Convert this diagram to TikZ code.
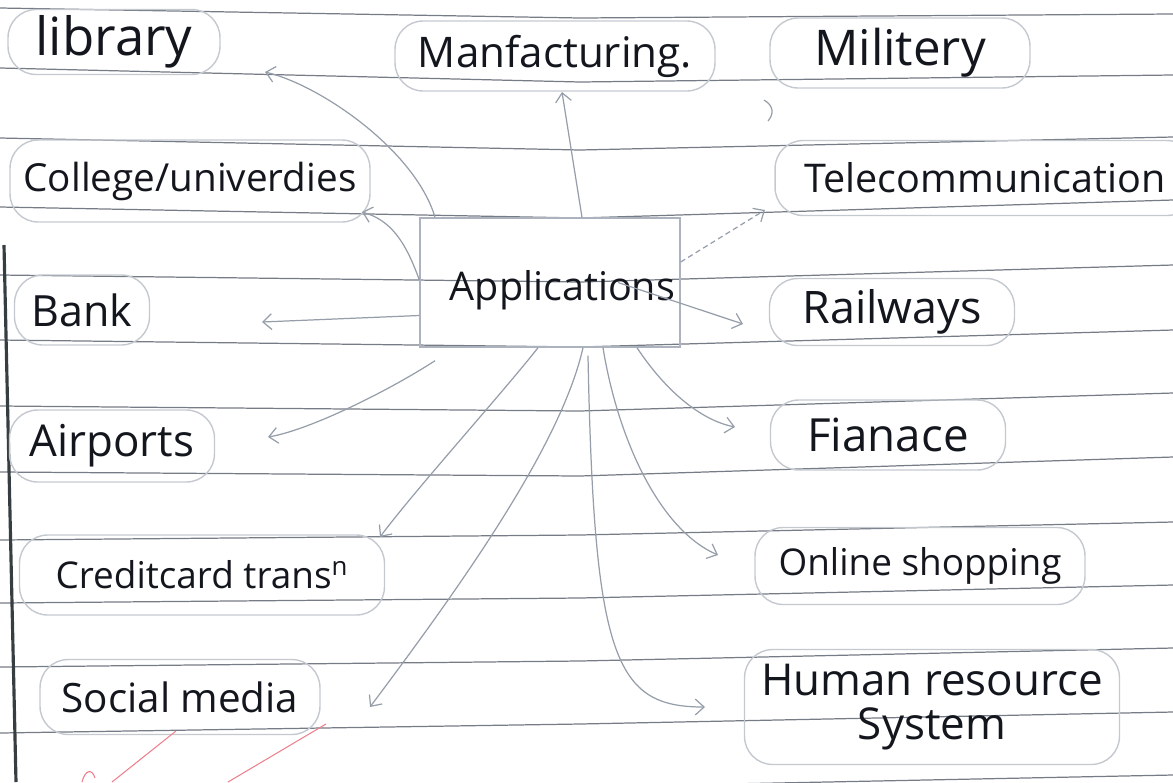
\documentclass[tikz,border=0pt]{standalone}
\usepackage{fontspec}
\setmainfont{Open Sans}
\usetikzlibrary{arrows.meta}

\definecolor{rulegray}{RGB}{118,124,134}
\definecolor{margin}{RGB}{55,62,66}
\definecolor{pencil}{RGB}{150,158,170}
\definecolor{ovalgray}{RGB}{196,201,208}
\definecolor{boxgray}{RGB}{172,178,190}
\definecolor{ink}{RGB}{20,22,30}
\definecolor{redpen}{RGB}{236,128,140}

\newcommand\hw[1]{\fontsize{#1}{#1}\selectfont}

\begin{document}
\begin{tikzpicture}[
  x=0.02cm, y=-0.02cm,
  rule/.style   = {draw=rulegray, line width=0.7pt},
  pill/.style   = {draw=ovalgray, line width=0.8pt, rounded corners=16pt, text=ink},
  appbox/.style = {draw=boxgray, line width=0.8pt, inner sep=0pt, text=ink},
  arr/.style    = {draw=pencil, line width=0.7pt, -{Straight Barb[length=5pt,width=9pt]}},
]
  \clip (0,0) rectangle (1173,782);

  % ruled paper
  \foreach \a/\b/\c in {8/18/14, 68/82/75, 138/150/137, 207/218/200,
                        275/282/265, 340/347/330, 406/411/393, 472/476/457,
                        540/535/522, 603/598/585, 667/661/648, 733/724/712,
                        795/787/775}
    \draw[rule] (0,\a) -- (580,\b) -- (1173,\c);
  \draw[margin, line width=1.8pt] (4,245) -- (16,782);

  \node[appbox, minimum width=5.2cm, text width=5.0cm, align=right,
        text height=1.64cm, text depth=0.94cm, font=\hw{22.5}]
                                                   (app)  at (550,282.5) {Applications};

  \node[pill, minimum width=4.24cm, minimum height=1.30cm, font=\hw{30}] (lib)  at (114,42)  {library};
  \node[pill, minimum width=6.40cm, minimum height=1.40cm, font=\hw{24}] (manf) at (555,56)  {Manfacturing.};
  \node[pill, minimum width=5.20cm, minimum height=1.40cm, font=\hw{28}] (mil)  at (900,53)  {Militery};
  \node[pill, minimum width=7.20cm, minimum height=1.64cm, font=\hw{22}] (coll) at (190,181) {College/univerdies};
  \node[pill, minimum width=8.40cm, minimum height=1.50cm, font=\hw{22.5}] (tele) at (985,178) {Telecommunication};
  \node[pill, minimum width=2.70cm, minimum height=1.40cm, font=\hw{24.5}] (bank) at (82,310)  {Bank};
  \node[pill, minimum width=4.90cm, minimum height=1.34cm, font=\hw{25.5}] (rail) at (892,312) {Railways};
  \node[pill, minimum width=4.10cm, minimum height=1.44cm, font=\hw{25}] (air)  at (112,446) {Airports};
  \node[pill, minimum width=4.70cm, minimum height=1.40cm, font=\hw{26}] (fin)  at (888,435) {Fianace};
  \node[pill, minimum width=7.30cm, minimum height=1.60cm, font=\hw{21}] (cred) at (202,575) {Creditcard trans\textsuperscript{n}};
  \node[pill, minimum width=6.60cm, minimum height=1.54cm, font=\hw{21}] (shop) at (920,566) {Online shopping};
  \node[pill, minimum width=5.60cm, minimum height=1.50cm, font=\hw{23}] (soc)  at (180,697) {Social media};
  \node[pill, minimum width=7.50cm, minimum height=2.30cm, font=\hw{25}, align=center]
                                                                          (hr)   at (932,707) {Human resource\\System};

  % free arrow ends
  \coordinate (t-lib)  at (265,72);
  \coordinate (t-coll) at (362,212);
  \coordinate (t-manf) at (562,92);
  \coordinate (t-tele) at (765,210);
  \coordinate (t-rail) at (743,324);
  \coordinate (t-bank) at (262,322);
  \coordinate (t-air)  at (268,437);
  \coordinate (t-fin)  at (735,427);
  \coordinate (t-cred) at (380,537);
  \coordinate (t-shop) at (718,555);
  \coordinate (t-soc)  at (370,707);
  \coordinate (t-hr)   at (705,707);

  \draw[arr] ([xshift=-2.3cm]app.north) .. controls (415,150) and (320,85) .. (t-lib);
  \draw[arr] ([yshift=0.05cm]app.west)  .. controls (405,240) and (390,220) .. (t-coll);
  \draw[arr] ([xshift=0.64cm]app.north) -- (t-manf);
  \draw[arr, dash pattern=on 3pt off 2pt] ([yshift=0.41cm]app.east) -- (t-tele);
  \draw[arr] ([xshift=1.36cm]app.center) -- (t-rail);
  \draw[arr] ([yshift=-0.66cm]app.west) -- (t-bank);
  \draw[arr] ([xshift=-2.3cm,yshift=-0.26cm]app.south) .. controls (390,390) and (310,430) .. (t-air);
  \draw[arr] ([xshift=-0.24cm]app.south) .. controls (505,390) and (415,490) .. (t-cred);
  \draw[arr] ([xshift=0.66cm]app.south)  .. controls (560,450) and (450,600) .. (t-soc);
  \draw[arr] ([xshift=0.76cm,yshift=-0.16cm]app.south) .. controls (594,660) and (615,707) .. (t-hr);
  \draw[arr] ([xshift=1.06cm]app.south)  .. controls (618,440) and (660,530) .. (t-shop);
  \draw[arr] ([xshift=1.74cm]app.south)  .. controls (665,390) and (700,420) .. (t-fin);

  % stray pencil and red marks
  \draw[pencil, line width=0.7pt] (764,100) .. controls (774,106) and (774,114) .. (768,121);
  \draw[redpen, line width=0.6pt] (82,782) .. controls (85,770) and (92,768) .. (95,778);
  \draw[redpen, line width=0.6pt] (112,782) -- (176,731);
  \draw[redpen, line width=0.6pt] (228,782) -- (326,724);
\end{tikzpicture}
\end{document}
